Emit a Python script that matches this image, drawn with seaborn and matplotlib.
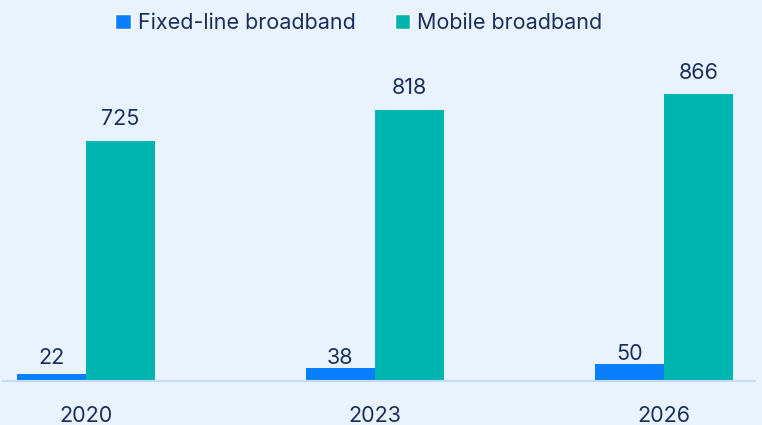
import pandas as pd
from matplotlib import pyplot as plt
from matplotlib.patches import Patch
import seaborn as sns

years = ['2020', '2023', '2026']
fixed_line = [22, 38, 50]
mobile = [725, 818, 866]
series_names = ['Fixed-line broadband', 'Mobile broadband']
colors = ['#0A7FFB', '#00B4AF']

df = pd.DataFrame({
    'year': years * 2,
    'value': fixed_line + mobile,
    'series': [series_names[0]] * 3 + [series_names[1]] * 3,
})

BG = '#E8F3FE'
TEXT = '#1C2E5A'

sns.set_theme(style='white')
plt.rcParams['font.family'] = ['Inter', 'DejaVu Sans']

fig = plt.figure(figsize=(7.62, 4.25), dpi=100, facecolor=BG)
ax = fig.add_axes([3 / 762, 44 / 425, 752 / 762, 331 / 425])
ax.set_facecolor(BG)

sns.barplot(data=df, x='year', y='value', hue='series', palette=colors,
            width=0.478, saturation=1, linewidth=0, ax=ax, legend=False)

ax.set_xlim(-0.287, 2.315)
ax.set_ylim(0, 1000)

# serie fixa: rotulos numa altura comum logo acima das barras pequenas
for bar in ax.containers[0]:
    ax.text(bar.get_x() + bar.get_width() / 2, max(bar.get_height(), 38),
            f"{bar.get_height():.0f}", ha='center', va='bottom',
            fontsize=15.5, color=TEXT)
ax.bar_label(ax.containers[1], fmt='%d', padding=8.5, fontsize=15.5, color=TEXT)

sns.despine(ax=ax, left=True, top=True, right=True)
ax.spines['bottom'].set_color('#C4DBF4')
ax.spines['bottom'].set_linewidth(1.5)
ax.set_yticks([])
ax.set_xlabel('')
ax.set_ylabel('')
ax.tick_params(axis='x', length=0, pad=18, labelsize=15.5, labelcolor=TEXT)

handles = [Patch(facecolor=c, label=n) for c, n in zip(colors, series_names)]
fig.legend(handles=handles, loc='center', bbox_to_anchor=(359 / 762, 1 - 23 / 425),
           ncol=2, frameon=False, fontsize=15.5, labelcolor=TEXT,
           handlelength=0.7, handleheight=0.7, handletextpad=0.35,
           columnspacing=1.8)

fig.savefig('out.png', dpi=100, facecolor=BG)
